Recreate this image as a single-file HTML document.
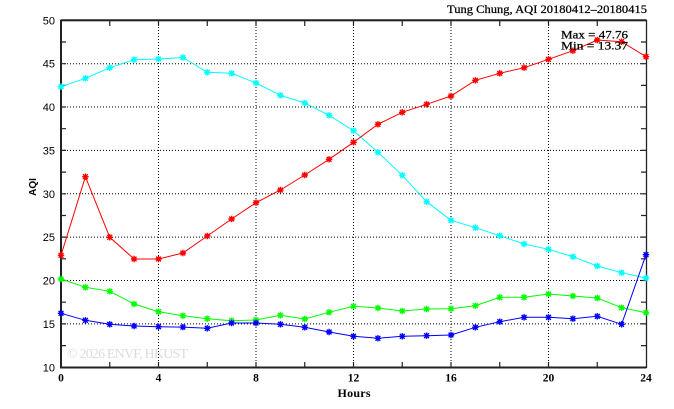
<!DOCTYPE html>
<html><head><meta charset="utf-8"><style>
html,body{margin:0;padding:0;background:#fff;}
svg{display:block;}
</style></head><body>
<svg width="674" height="409" viewBox="0 0 674 409" xmlns="http://www.w3.org/2000/svg">
<defs>
<g id="st"><path d="M-3.2,0H3.2M0,-3.2V3.2M-2.4,-2.4L2.4,2.4M-2.4,2.4L2.4,-2.4" stroke-width="1.4" fill="none"/></g>
</defs>
<rect width="674" height="409" fill="#fff"/>
<!-- watermark -->
<text x="67" y="358" font-family="Liberation Serif, serif" font-size="14" fill="#dcdcdc" textLength="121">© 2026  ENVF, HKUST</text>
<!-- grid -->
<g stroke="#000" stroke-width="1" stroke-dasharray="1,2" fill="none">
<path d="M158.5,21V367M256,21V367M353.5,21V367M451,21V367M548.5,21V367"/>
<path d="M61,323.9H646M61,280.5H646M61,237.1H646M61,193.8H646M61,150.4H646M61,107H646M61,63.7H646"/>
</g>
<!-- ticks -->
<g stroke="#222" stroke-width="1.2" fill="none">
<path d="M61,345.6h5M61,323.9h5M61,302.2h5M61,280.5h5M61,258.8h5M61,237.1h5M61,215.5h5M61,193.8h5M61,172.1h5M61,150.4h5M61,128.7h5M61,107h5M61,85.4h5M61,63.7h5M61,42h5"/>
<path d="M646,345.6h-5M646,323.9h-5M646,302.2h-5M646,280.5h-5M646,258.8h-5M646,237.1h-5M646,215.5h-5M646,193.8h-5M646,172.1h-5M646,150.4h-5M646,128.7h-5M646,107h-5M646,85.4h-5M646,63.7h-5M646,42h-5"/>
<path d="M109.75,367v-5M158.5,367v-5M207.25,367v-5M256,367v-5M304.75,367v-5M353.5,367v-5M402.25,367v-5M451,367v-5M499.75,367v-5M548.5,367v-5M597.25,367v-5"/>
<path d="M109.75,21v5M158.5,21v5M207.25,21v5M256,21v5M304.75,21v5M353.5,21v5M402.25,21v5M451,21v5M499.75,21v5M548.5,21v5M597.25,21v5"/>
</g>
<!-- border -->
<path d="M61,20.5H646.5V367.3H61Z" fill="none" stroke="#222" stroke-width="1.3"/>
<path d="M61,19.8V368.2M60.2,367.5H646.5M61,20.3H646.5" fill="none" stroke="#222" stroke-width="2"/>
<!-- series -->
<g fill="none" stroke-width="1">
<polyline stroke="#00ffff" points="61,86.7 85.4,78.3 109.75,67.7 134.1,59.7 158.5,59 182.9,57.5 207.25,72.3 231.6,73.3 256,83 280.4,95.3 304.75,103 329.1,115.3 353.5,130.7 377.9,152.3 402.25,175.3 426.6,201.7 451,220.3 475.4,227.7 499.75,235.7 524.1,244 548.5,249.3 572.9,256.7 597.25,266 621.6,272.7 646,278"/>
<polyline stroke="#00ff00" points="61,279 85.4,287.3 109.75,291.3 134.1,304 158.5,311.7 182.9,315.7 207.25,318.7 231.6,320.7 256,320 280.4,315.3 304.75,319 329.1,312.3 353.5,306.3 377.9,308 402.25,311 426.6,309 451,308.7 475.4,305.7 499.75,297.3 524.1,297.3 548.5,294 572.9,296 597.25,298 621.6,307.7 646,312.7"/>
<polyline stroke="#0000ff" points="61,313.3 85.4,320.3 109.75,324.3 134.1,326 158.5,326.7 182.9,327.1 207.25,328.3 231.6,323 256,323 280.4,324.3 304.75,327.3 329.1,332 353.5,336.3 377.9,338.3 402.25,336.3 426.6,335.7 451,335 475.4,327.3 499.75,321.7 524.1,317.3 548.5,317.3 572.9,318.7 597.25,316.3 621.6,324.3 646,254.7"/>
<polyline stroke="#ff0000" points="61,255.3 85.4,176.7 109.75,237.3 134.1,259 158.5,259 182.9,253 207.25,236 231.6,219 256,202.7 280.4,190 304.75,175 329.1,159.3 353.5,142.3 377.9,124.3 402.25,112.3 426.6,104.3 451,96 475.4,80.3 499.75,73.3 524.1,67.7 548.5,59.3 572.9,50.7 597.25,40 621.6,41.7 646,56.7"/>
</g>
<!-- markers -->
<g stroke="#00ffff">
<use href="#st" x="61" y="86.7"/><use href="#st" x="85.4" y="78.3"/><use href="#st" x="109.75" y="67.7"/><use href="#st" x="134.1" y="59.7"/><use href="#st" x="158.5" y="59"/><use href="#st" x="182.9" y="57.5"/><use href="#st" x="207.25" y="72.3"/><use href="#st" x="231.6" y="73.3"/><use href="#st" x="256" y="83"/><use href="#st" x="280.4" y="95.3"/><use href="#st" x="304.75" y="103"/><use href="#st" x="329.1" y="115.3"/><use href="#st" x="353.5" y="130.7"/><use href="#st" x="377.9" y="152.3"/><use href="#st" x="402.25" y="175.3"/><use href="#st" x="426.6" y="201.7"/><use href="#st" x="451" y="220.3"/><use href="#st" x="475.4" y="227.7"/><use href="#st" x="499.75" y="235.7"/><use href="#st" x="524.1" y="244"/><use href="#st" x="548.5" y="249.3"/><use href="#st" x="572.9" y="256.7"/><use href="#st" x="597.25" y="266"/><use href="#st" x="621.6" y="272.7"/><use href="#st" x="646" y="278"/>
</g>
<g stroke="#00ff00">
<use href="#st" x="61" y="279"/><use href="#st" x="85.4" y="287.3"/><use href="#st" x="109.75" y="291.3"/><use href="#st" x="134.1" y="304"/><use href="#st" x="158.5" y="311.7"/><use href="#st" x="182.9" y="315.7"/><use href="#st" x="207.25" y="318.7"/><use href="#st" x="231.6" y="320.7"/><use href="#st" x="256" y="320"/><use href="#st" x="280.4" y="315.3"/><use href="#st" x="304.75" y="319"/><use href="#st" x="329.1" y="312.3"/><use href="#st" x="353.5" y="306.3"/><use href="#st" x="377.9" y="308"/><use href="#st" x="402.25" y="311"/><use href="#st" x="426.6" y="309"/><use href="#st" x="451" y="308.7"/><use href="#st" x="475.4" y="305.7"/><use href="#st" x="499.75" y="297.3"/><use href="#st" x="524.1" y="297.3"/><use href="#st" x="548.5" y="294"/><use href="#st" x="572.9" y="296"/><use href="#st" x="597.25" y="298"/><use href="#st" x="621.6" y="307.7"/><use href="#st" x="646" y="312.7"/>
</g>
<g stroke="#0000ff">
<use href="#st" x="61" y="313.3"/><use href="#st" x="85.4" y="320.3"/><use href="#st" x="109.75" y="324.3"/><use href="#st" x="134.1" y="326"/><use href="#st" x="158.5" y="326.7"/><use href="#st" x="182.9" y="327.1"/><use href="#st" x="207.25" y="328.3"/><use href="#st" x="231.6" y="323"/><use href="#st" x="256" y="323"/><use href="#st" x="280.4" y="324.3"/><use href="#st" x="304.75" y="327.3"/><use href="#st" x="329.1" y="332"/><use href="#st" x="353.5" y="336.3"/><use href="#st" x="377.9" y="338.3"/><use href="#st" x="402.25" y="336.3"/><use href="#st" x="426.6" y="335.7"/><use href="#st" x="451" y="335"/><use href="#st" x="475.4" y="327.3"/><use href="#st" x="499.75" y="321.7"/><use href="#st" x="524.1" y="317.3"/><use href="#st" x="548.5" y="317.3"/><use href="#st" x="572.9" y="318.7"/><use href="#st" x="597.25" y="316.3"/><use href="#st" x="621.6" y="324.3"/><use href="#st" x="646" y="254.7"/>
</g>
<g stroke="#ff0000">
<use href="#st" x="61" y="255.3"/><use href="#st" x="85.4" y="176.7"/><use href="#st" x="109.75" y="237.3"/><use href="#st" x="134.1" y="259"/><use href="#st" x="158.5" y="259"/><use href="#st" x="182.9" y="253"/><use href="#st" x="207.25" y="236"/><use href="#st" x="231.6" y="219"/><use href="#st" x="256" y="202.7"/><use href="#st" x="280.4" y="190"/><use href="#st" x="304.75" y="175"/><use href="#st" x="329.1" y="159.3"/><use href="#st" x="353.5" y="142.3"/><use href="#st" x="377.9" y="124.3"/><use href="#st" x="402.25" y="112.3"/><use href="#st" x="426.6" y="104.3"/><use href="#st" x="451" y="96"/><use href="#st" x="475.4" y="80.3"/><use href="#st" x="499.75" y="73.3"/><use href="#st" x="524.1" y="67.7"/><use href="#st" x="548.5" y="59.3"/><use href="#st" x="572.9" y="50.7"/><use href="#st" x="597.25" y="40"/><use href="#st" x="621.6" y="41.7"/><use href="#st" x="646" y="56.7"/>
</g>
<!-- y tick labels -->
<g font-family="Liberation Sans, sans-serif" font-size="11" fill="#000" text-anchor="end">
<text x="55" y="24.5">50</text>
<text x="55" y="67.7">45</text>
<text x="55" y="111">40</text>
<text x="55" y="154.4">35</text>
<text x="55" y="197.8">30</text>
<text x="55" y="241.1">25</text>
<text x="55" y="284.5">20</text>
<text x="55" y="327.9">15</text>
<text x="55" y="371.3">10</text>
</g>
<!-- x tick labels -->
<g font-family="Liberation Serif, serif" font-size="11.5" font-weight="bold" fill="#000" text-anchor="middle">
<text x="61" y="381.5">0</text>
<text x="158.5" y="381.5">4</text>
<text x="256" y="381.5">8</text>
<text x="353.5" y="381.5">12</text>
<text x="451" y="381.5">16</text>
<text x="548.5" y="381.5">20</text>
<text x="646" y="381.5">24</text>
</g>
<text x="354" y="397" font-family="Liberation Serif, serif" font-size="12" font-weight="bold" text-anchor="middle" textLength="33">Hours</text>
<text transform="translate(36,187) rotate(-90)" font-family="Liberation Sans, sans-serif" font-size="10" font-weight="bold" text-anchor="middle">AQI</text>
<!-- title -->
<g font-family="Liberation Serif, serif" font-size="11.5" fill="#000" stroke="#000" stroke-width="0.25">
<text x="447" y="13" textLength="200" lengthAdjust="spacingAndGlyphs">Tung Chung, AQI 20180412–20180415</text>
<text x="561" y="38.5" textLength="67" lengthAdjust="spacingAndGlyphs">Max = 47.76</text>
<text x="561" y="49.5" textLength="67" lengthAdjust="spacingAndGlyphs">Min = 13.37</text>
</g>
</svg>
</body></html>
